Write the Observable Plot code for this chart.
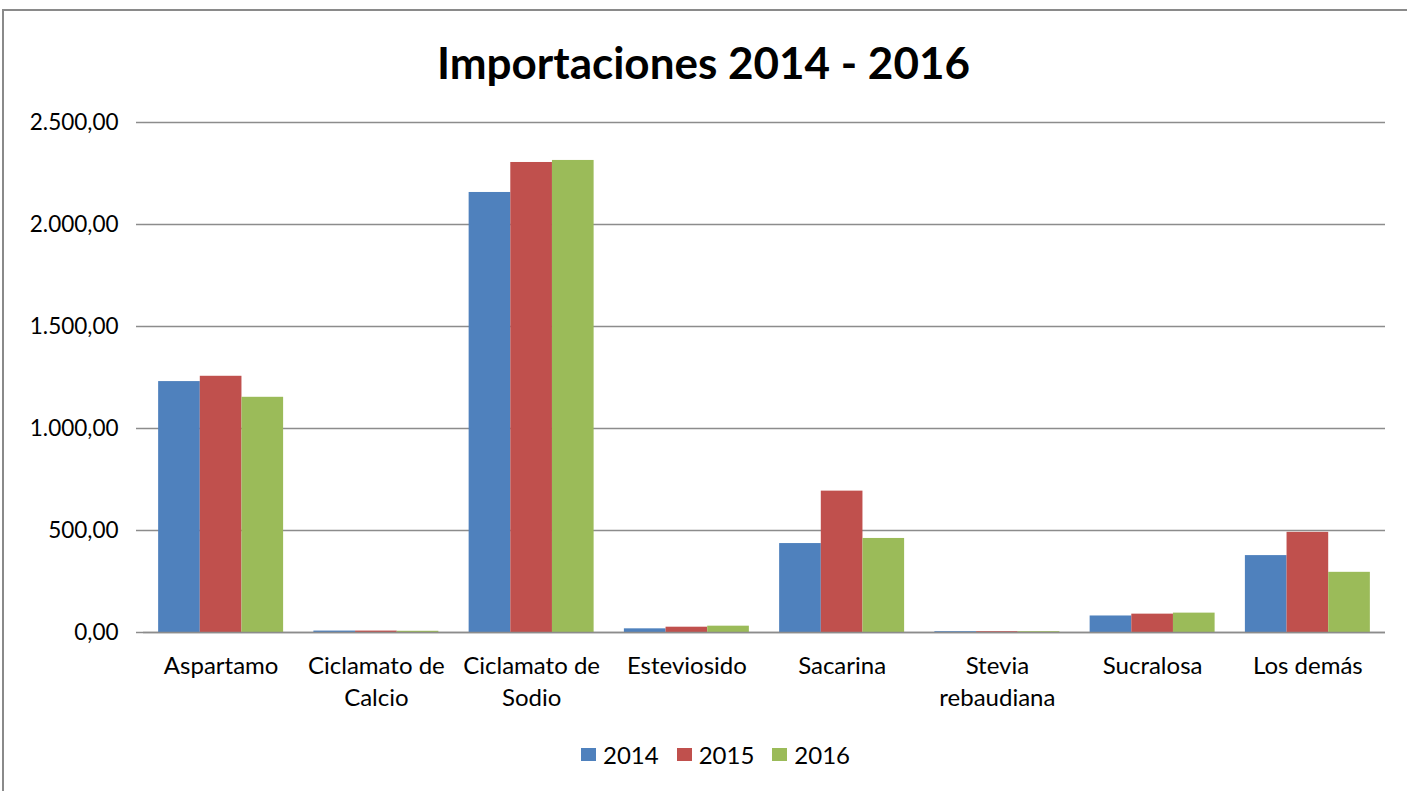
<!DOCTYPE html>
<html>
<head>
<meta charset="utf-8">
<script src="https://cdn.jsdelivr.net/npm/d3@7"></script>
<script src="https://cdn.jsdelivr.net/npm/@observablehq/plot@0.6"></script>
<style>
  html, body { margin: 0; padding: 0; background: #fff; overflow: hidden; width: 1407px; height: 791px; }
  #topline { position: absolute; left: 2px; top: 9px; width: 1405px; height: 2px; background: #8a8a8a; z-index: 2; }
  #leftline { position: absolute; left: 2px; top: 9px; width: 2px; height: 782px; background: #8a8a8a; z-index: 2; }
  #wrap { position: absolute; left: 0; top: 0; width: 1407px; font-family: Lato, sans-serif; }
  #title { height: 100px; line-height: 100px; text-align: center; font-weight: bold; font-size: 44px; color: #000; padding-top: 12px; box-sizing: border-box; }
  #legend { display: flex; justify-content: center; align-items: center; gap: 18px; font-size: 24px; color: #000; padding-top: 18px; padding-left: 24px; }
  #legend .item { display: flex; align-items: center; gap: 7px; }
  #legend .sw { width: 15px; height: 13px; display: inline-block; }
  svg { display: block; }
</style>
</head>
<body>
<div id="wrap">
  <div id="title">Importaciones 2014 - 2016</div>
  <div id="chart"></div>
  <div id="legend"></div>
</div>
<div id="topline"></div>
<div id="leftline"></div>
<script>
const categories = ["Aspartamo", "Ciclamato de Calcio", "Ciclamato de Sodio", "Esteviosido", "Sacarina", "Stevia rebaudiana", "Sucralosa", "Los demás"];
const categoryLabels = ["Aspartamo", "Ciclamato de\nCalcio", "Ciclamato de\nSodio", "Esteviosido", "Sacarina", "Stevia\nrebaudiana", "Sucralosa", "Los demás"];
const years = ["2014", "2015", "2016"];
const values2014 = [1230, 7, 2157, 18, 436, 4, 81, 377];
const values2015 = [1256, 7, 2304, 26, 693, 4, 90, 491];
const values2016 = [1153, 6, 2314, 31, 461, 4, 95, 295];
const yTicks = [0, 500, 1000, 1500, 2000, 2500];
const colors = ["#4F81BD", "#C0504D", "#9BBB59"];

// Excel-style clustered layout: gap between groups as a fraction of the category slot
const gapFrac = 0.195;
const barFrac = (1 - gapFrac) / years.length;

const series = [values2014, values2015, values2016];
const data = [];
categories.forEach((c, i) => years.forEach((y, j) => data.push({ci: i, yi: j, cat: c, year: y, value: series[j][i]})));

const loc = d3.formatLocale({decimal: ",", thousands: ".", grouping: [3], currency: ["", ""]});
const fmt = loc.format(",.2f");

const chart = Plot.plot({
  width: 1407,
  height: 622,
  marginLeft: 143,
  marginRight: 22,
  marginTop: 22,
  marginBottom: 90,
  style: {fontFamily: "Lato, sans-serif", fontSize: "22px", color: "#000", background: "transparent"},
  x: {type: "linear", domain: [0, categories.length], axis: null},
  y: {domain: [0, 2500], label: null},
  color: {domain: years, range: colors},
  marks: [
    Plot.gridY(yTicks, {stroke: "#8c8c8c", strokeOpacity: 1, strokeWidth: 1.5}),
    Plot.axisY(yTicks, {tickFormat: fmt, tickSize: 7, tickPadding: 18, fontSize: 22.5, stroke: "#8c8c8c", strokeWidth: 1.5, label: null}),
    Plot.rectY(data, {
      x1: d => d.ci + gapFrac / 2 + d.yi * barFrac,
      x2: d => d.ci + gapFrac / 2 + (d.yi + 1) * barFrac,
      y: "value",
      fill: "year"
    }),
    Plot.axisX(categories.map((c, i) => i + 0.5), {anchor: "bottom", tickSize: 0, tickPadding: 19, fontSize: 24, lineHeight: 1.33, tickFormat: d => categoryLabels[Math.floor(d)], label: null}),
    Plot.ruleY([0], {stroke: "#8c8c8c", strokeWidth: 1.5})
  ]
});
document.getElementById("chart").appendChild(chart);

const legend = document.getElementById("legend");
years.forEach((y, j) => {
  const it = document.createElement("div");
  it.className = "item";
  const sw = document.createElement("span");
  sw.className = "sw";
  sw.style.background = colors[j];
  const tx = document.createElement("span");
  tx.textContent = y;
  it.appendChild(sw); it.appendChild(tx);
  legend.appendChild(it);
});
</script>
</body>
</html>
